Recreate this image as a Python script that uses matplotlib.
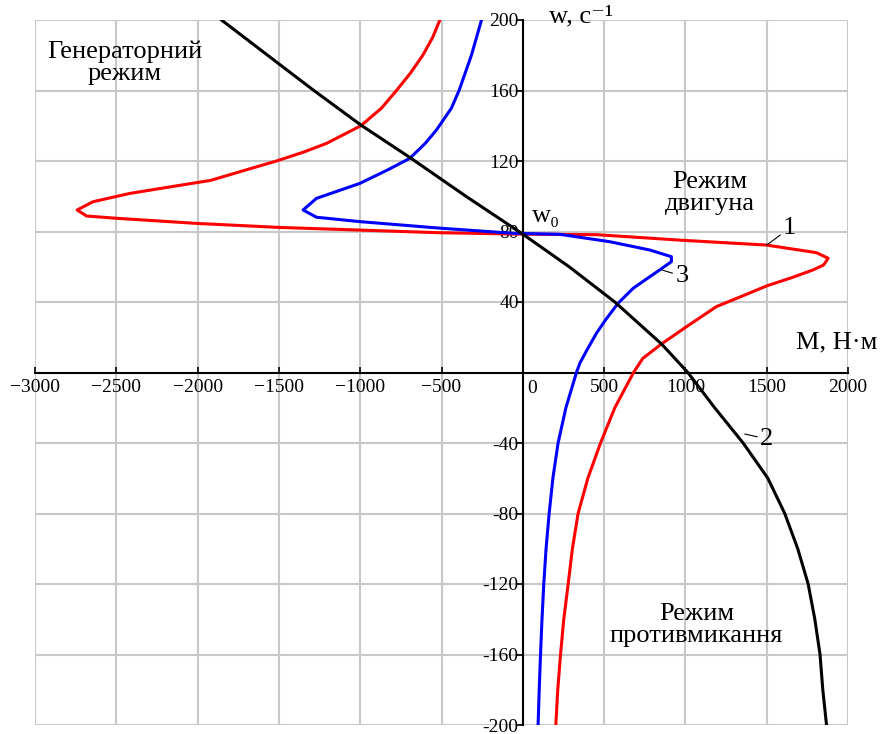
import matplotlib
matplotlib.use("Agg")
import matplotlib.pyplot as plt
from matplotlib.ticker import FixedLocator, FixedFormatter

plt.rcParams['font.family'] = ['Liberation Serif', 'DejaVu Serif']

# крива 1 (червона)
w1 = [200, 190, 180, 170, 160, 150, 140, 130, 125, 120, 115, 109, 105, 101.6, 96.9,
      92.2, 88.8, 87.5, 84.6, 82.3, 80.8, 79.3, 78.5, 78.2, 75, 72.3, 68, 64.8, 61,
      58.2, 54, 49.1, 43, 37.4, 26, 16.2, 8, 0, -20, -40, -60, -80, -100, -120, -140,
      -160, -180, -200]
M1 = [-510, -555, -615, -690, -777, -869, -996, -1207, -1350, -1515, -1700, -1920,
      -2190, -2417, -2643, -2741, -2683, -2499, -2007, -1494, -1002, -510, 0, 453,
      984, 1499, 1806, 1878, 1850, 1785, 1660, 1499, 1340, 1191, 1007, 853, 738, 681,
      566, 478, 400, 340, 305, 279, 252, 232, 215, 203]

# крива 2 (чорна)
w2 = [200, 173, 160, 140.4, 122.4, 100, 78.5, 60, 40, 16.2, 0, -20, -40, -60, -80,
      -100, -120, -140, -160, -180, -200]
M2 = [-1853, -1470, -1285, -996, -701, -350, 0, 285, 566, 853, 1015, 1180, 1355,
      1507, 1611, 1691, 1755, 1796, 1828, 1845, 1868]

# крива 3 (синя)
w3 = [200, 180, 160, 150, 137.6, 130, 121.5, 115, 107.3, 98.8, 92.2, 88.1, 85.6,
      81.9, 79, 78.4, 74.2, 69.5, 65.7, 62.9, 58.2, 53, 47.8, 39.3, 30, 22.3, 12, 5.3,
      0, -20, -40, -60, -80, -100, -120, -140, -160, -180, -200]
M3 = [-254, -316, -392, -439, -531, -600, -695, -830, -1002, -1269, -1351, -1269,
      -1002, -510, -61, 228, 535, 781, 914, 914, 842, 760, 679, 586, 510, 453, 390,
      351, 330, 265, 217, 185, 162, 143, 129, 118, 109, 101, 94]

x_ticks = [-3000, -2500, -2000, -1500, -1000, -500, 0, 500, 1000, 1500, 2000]
x_labels = ['\u22123000', '\u22122500', '\u22122000', '\u22121500', '\u22121000',
            '\u2212500', '', '500', '1000', '1500', '2000']
y_ticks = [-200, -160, -120, -80, -40, 0, 40, 80, 120, 160, 200]
y_labels = ['-200', '-160', '-120', '-80', '-40', '', '40', '80', '120', '160', '200']

fig = plt.figure(figsize=(8.88, 7.34), dpi=100)
ax = fig.add_axes([35/888, 9/734, 813/888, 705/734])

ax.plot(M1, w1, color='#ff0000', lw=2.2, zorder=3)
ax.plot(M3, w3, color='#0000ff', lw=2.2, zorder=3)
ax.plot(M2, w2, color='black', lw=2.2, zorder=4)

ax.set_xlim(-3000, 2000)
ax.set_ylim(-200, 200)

ax.spines['left'].set_position(('data', 0))
ax.spines['bottom'].set_position(('data', 0))
ax.spines['top'].set_visible(False)
ax.spines['right'].set_visible(False)
ax.spines['left'].set_linewidth(1.5)
ax.spines['bottom'].set_linewidth(1.5)

ax.xaxis.set_major_locator(FixedLocator(x_ticks))
ax.xaxis.set_major_formatter(FixedFormatter(x_labels))
ax.yaxis.set_major_locator(FixedLocator(y_ticks))
ax.yaxis.set_major_formatter(FixedFormatter(y_labels))
ax.tick_params(axis='x', direction='in', length=4, width=1.2, labelsize=14, pad=5)
ax.tick_params(axis='y', direction='out', length=5, width=1.2, labelsize=14, pad=-2)
for lab in ax.get_yticklabels():
    lab.set_zorder(5)

ax.grid(True, color='#c8c8c8', lw=1.5, zorder=0)
ax.set_axisbelow(True)

# "0" праворуч від осі
ax.text(30, -4, '0', fontsize=14, ha='left', va='top')

fs = 19
ax.text(-2448, 176, 'Генераторний\nрежим', fontsize=fs, ha='center', va='center',
        linespacing=1.0)
ax.text(1150, 102, 'Режим\nдвигуна', fontsize=fs, ha='center', va='center',
        linespacing=1.0)
ax.text(1068, -143, 'Режим\nпротивмикання', fontsize=fs, ha='center', va='center',
        linespacing=1.0)
ax.text(55, 89, 'w\u2080', fontsize=fs, ha='left', va='center')
ax.text(160, 202, 'w, с\u207b\u00b9', fontsize=fs, ha='left', va='center', clip_on=False)
ax.text(1680, 17, 'M, Н\u00b7м', fontsize=fs, ha='left', va='center')

arrow = dict(arrowstyle='-', lw=0.8, color='black', shrinkA=0, shrinkB=0)
ax.annotate('1', xy=(1500, 72.3), xytext=(1642, 82), fontsize=fs,
            ha='center', va='center', arrowprops=arrow)
ax.annotate('3', xy=(855, 58.2), xytext=(978, 54.7), fontsize=fs,
            ha='center', va='center', arrowprops=arrow)
ax.annotate('2', xy=(1365, -34.9), xytext=(1500, -37.7), fontsize=fs,
            ha='center', va='center', arrowprops=arrow)

fig.savefig('out.png', dpi=100)
